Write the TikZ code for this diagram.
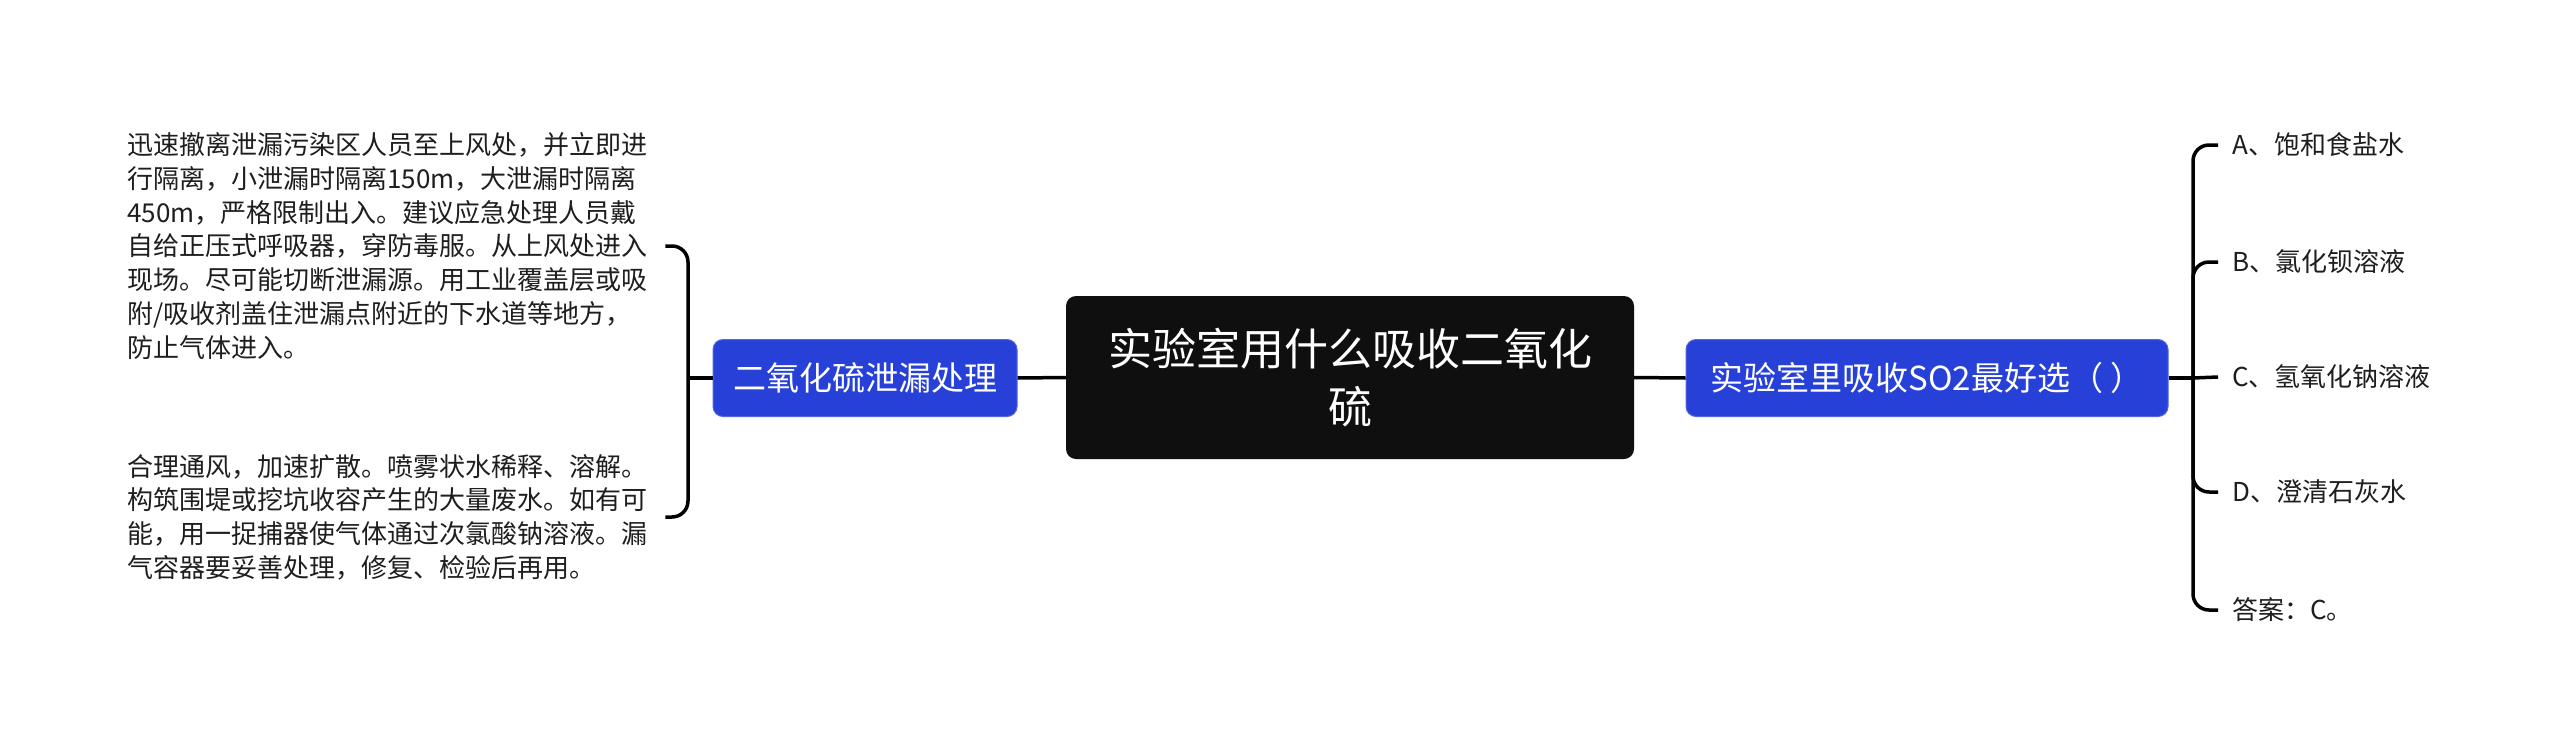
\documentclass[tikz,border=0pt]{standalone}
\usepackage{fontspec}
\setmainfont{Noto Sans CJK SC}
\definecolor{nodeblue}{HTML}{2741D8}
\definecolor{rootbg}{HTML}{0F0F0F}
\definecolor{txt}{HTML}{1E1E1E}
\tikzset{
  conn/.style={line width=3.5pt, black},
  rootbox/.style={fill=rootbg, rounded corners=10pt, text=white, align=center,
    font=\fontsize{44pt}{58pt}\selectfont, minimum width=568pt, minimum height=163pt, inner sep=0pt},
  bluebox/.style={fill=nodeblue, draw=nodeblue!80!white, line width=1pt, rounded corners=10pt, text=white,
    font=\fontsize{33pt}{40pt}\selectfont, minimum height=77pt, inner sep=0pt},
  leaftext/.style={text=txt, align=left, text width=520pt, inner sep=0pt,
    font=\fontsize{26pt}{33.7pt}\selectfont},
  item/.style={text=txt, anchor=west, inner sep=0pt, font=\fontsize{26pt}{33pt}\selectfont}
}
\begin{document}
\begin{tikzpicture}[x=1pt,y=-1pt]
\useasboundingbox[fill=white] (0,0) rectangle (2560,753);
% nodes
\node[rootbox] (root) at (1350,377.5) {实验室用什么吸收二氧化\\硫};
\node[bluebox, minimum width=304pt] (left) at (865,378) {二氧化硫泄漏处理};
\node[bluebox, minimum width=482pt] (right) at (1927,378) {实验室里吸收SO2最好选（ ）};
\node[leaftext, anchor=west] (t1) at (127,246) {迅速撤离泄漏污染区人员至上风处，并立即进\\行隔离，小泄漏时隔离150m，大泄漏时隔离\\450m，严格限制出入。建议应急处理人员戴\\自给正压式呼吸器，穿防毒服。从上风处进入\\现场。尽可能切断泄漏源。用工业覆盖层或吸\\附/吸收剂盖住泄漏点附近的下水道等地方，\\防止气体进入。};
\node[leaftext, anchor=west] (t2) at (127,517) {合理通风，加速扩散。喷雾状水稀释、溶解。\\构筑围堤或挖坑收容产生的大量废水。如有可\\能，用一捉捕器使气体通过次氯酸钠溶液。漏\\气容器要妥善处理，修复、检验后再用。};
\node[item] (a) at (2232,145) {A、饱和食盐水};
\node[item] (b) at (2232,262) {B、氯化钡溶液};
\node[item] (c) at (2232,377) {C、氢氧化钠溶液};
\node[item] (d) at (2232,492) {D、澄清石灰水};
\node[item] (e) at (2232,610) {答案：C。};
\coordinate (lj) at (688,378);
\coordinate (rj) at (2193,378);
% connectors
\draw[conn] (root.west) -- (left.east);
\draw[conn] (root.east) -- (right.west);
\draw[conn] (left.west) -- (lj);
\draw[conn, rounded corners=16pt] (lj) -- (lj |- t1.center) -- ([xshift=18pt]t1.east);
\draw[conn, rounded corners=16pt] (lj) -- (lj |- t2.center) -- ([xshift=18pt]t2.east);
\draw[conn] (right.east) -- (rj);
\draw[conn, rounded corners=16pt] (rj) -- (rj |- a.west) -- ([xshift=-14pt]a.west);
\draw[conn, rounded corners=16pt] (rj) -- (rj |- b.west) -- ([xshift=-14pt]b.west);
\draw[conn] (rj) -- ([xshift=-14pt]c.west);
\draw[conn, rounded corners=16pt] (rj) -- (rj |- d.west) -- ([xshift=-14pt]d.west);
\draw[conn, rounded corners=16pt] (rj) -- (rj |- e.west) -- ([xshift=-14pt]e.west);
\end{tikzpicture}
\end{document}
